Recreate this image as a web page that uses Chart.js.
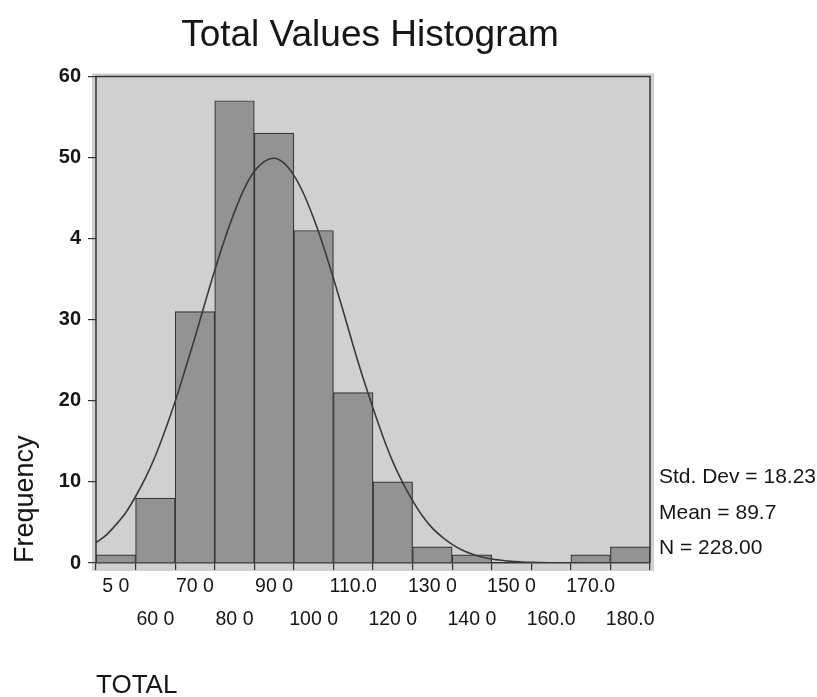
<!DOCTYPE html>
<html>
<head>
<meta charset="utf-8">
<title>Total Values Histogram</title>
<script src="https://cdn.jsdelivr.net/npm/chart.js@4.4.1/dist/chart.umd.min.js"></script>
<style>
  html, body { margin: 0; padding: 0; background: #ffffff; }
  #wrap { width: 817px; height: 697px; }
</style>
</head>
<body>
<div id="wrap"><canvas id="chart" width="817" height="697"></canvas></div>
<script>
// Histogram bins of TOTAL (bin centres, width 10)
const binCenters = [50, 60, 70, 80, 90, 100, 110, 120, 130, 140, 150, 160, 170, 180];
const frequencies = [1, 8, 31, 57, 53, 41, 21, 10, 2, 1, 0, 0, 1, 2];
const xTickLabels = ['5 0', '60 0', '70 0', '80 0', '90 0', '100 0', '110.0', '120 0',
                     '130 0', '140 0', '150 0', '160.0', '170.0', '180.0'];

const yTickValues = [0, 10, 20, 30, 40, 50, 60];
const yTickLabels = ['0', '10', '20', '30', '4', '50', '60'];

// Fitted normal curve (Mean = 89.7, Std. Dev = 18.23, N = 228)
const curveX = [45, 47.5, 50, 52.5, 55, 57.5, 60, 62.5, 65, 67.5, 70, 72.5, 75, 77.5,
                80, 82.5, 85, 87.5, 90, 92.5, 95, 97.5, 100, 102.5, 105, 107.5, 110,
                112.5, 115, 117.5, 120, 122.5, 125, 127.5, 130, 132.5, 135, 137.5, 140,
                142.5, 145, 147.5, 150, 152.5, 155, 160, 165, 170, 175, 180, 185];
const curveY = [2.5, 3.4, 4.7, 6.2, 8.2, 10.5, 13.2, 16.4, 19.9, 23.8, 27.8, 32.0, 36.1, 39.9,
                43.3, 46.2, 48.3, 49.5, 49.9, 49.3, 47.8, 45.5, 42.5, 39.0, 35.1, 31.0, 26.8,
                22.8, 19.1, 15.6, 12.5, 9.9, 7.7, 5.8, 4.3, 3.2, 2.3, 1.6, 1.1,
                0.75, 0.5, 0.33, 0.2, 0.13, 0.08, 0.03, 0.01, 0, 0, 0, 0];

const statLines = ['Std. Dev = 18.23', 'Mean = 89.7', 'N = 228.00'];

const FONT = '"Liberation Sans", Arial, Helvetica, sans-serif';
const INK = '#161616';
const FRAME = '#333333';

// Grey plotting panel behind the bars
const panelPlugin = {
  id: 'panel',
  beforeDraw(chart) {
    const { ctx, chartArea: a } = chart;
    ctx.save();
    ctx.fillStyle = '#d0d0d0';
    ctx.fillRect(a.left - 4, a.top - 3, a.right - a.left + 8, a.bottom - a.top + 11);
    ctx.restore();
  },
  afterDatasetsDraw(chart) {
    const { ctx, chartArea: a } = chart;
    ctx.save();
    ctx.strokeStyle = FRAME;
    ctx.lineWidth = 1.5;
    ctx.beginPath();
    ctx.moveTo(a.left, a.bottom);
    ctx.lineTo(a.left, a.top);
    ctx.lineTo(a.right, a.top);
    ctx.lineTo(a.right, a.bottom);
    ctx.stroke();
    ctx.restore();
  }
};

// Summary statistics printed beside the panel
const statsPlugin = {
  id: 'statsText',
  afterDraw(chart) {
    const { ctx, chartArea: a } = chart;
    ctx.save();
    ctx.font = '21px ' + FONT;
    ctx.fillStyle = INK;
    ctx.textAlign = 'left';
    ctx.textBaseline = 'alphabetic';
    statLines.forEach((t, i) => ctx.fillText(t, a.right + 9, a.bottom - 80 + i * 35.5));
    ctx.restore();
  }
};

new Chart(document.getElementById('chart'), {
  type: 'bar',
  data: {
    datasets: [
      {
        type: 'line',
        data: curveX.map((x, i) => ({ x: x, y: curveY[i] })),
        borderColor: '#3a3a3a',
        borderWidth: 1.6,
        pointRadius: 0,
        fill: false,
        cubicInterpolationMode: 'monotone',
        order: 0
      },
      {
        type: 'bar',
        data: binCenters.map((x, i) => ({ x: x, y: frequencies[i] })),
        backgroundColor: '#939393',
        borderColor: '#363636',
        borderWidth: 1.2,
        barPercentage: 1,
        categoryPercentage: 1,
        order: 1
      }
    ]
  },
  options: {
    responsive: false,
    animation: false,
    devicePixelRatio: 1,
    layout: { padding: { left: 0, right: 77, top: 0, bottom: 0 } },
    plugins: {
      legend: { display: false },
      tooltip: { enabled: false },
      title: {
        display: true,
        text: 'Total Values Histogram',
        color: INK,
        font: { family: FONT, size: 37, weight: 'normal' },
        padding: { top: 14, bottom: 18 }
      }
    },
    scales: {
      x: {
        type: 'linear',
        min: 45,
        max: 185,
        offset: false,
        afterFit(scale) { scale.height = 134; },
        afterBuildTicks(scale) { scale.ticks = binCenters.map(v => ({ value: v })); },
        grid: { drawOnChartArea: false, drawTicks: true, tickLength: 7, tickColor: FRAME, lineWidth: 1.2 },
        border: { display: true, color: FRAME, width: 1.6 },
        ticks: {
          autoSkip: false,
          maxRotation: 0,
          minRotation: 0,
          padding: 0,
          color: INK,
          font: { family: FONT, size: 19.5, lineHeight: '33px' },
          callback(value) {
            const i = binCenters.indexOf(value);
            if (i < 0) return '';
            return i % 2 === 0 ? [xTickLabels[i], ''] : ['', xTickLabels[i]];
          }
        },
        title: {
          display: true,
          text: 'TOTAL',
          align: 'start',
          color: INK,
          font: { family: FONT, size: 26, lineHeight: 0.8 },
          padding: { top: 0, bottom: 1 }
        }
      },
      y: {
        type: 'linear',
        position: 'left',
        min: 0,
        max: 60,
        afterFit(scale) { scale.width = 96; },
        afterBuildTicks(scale) { scale.ticks = yTickValues.map(v => ({ value: v })); },
        grid: { drawOnChartArea: false, drawTicks: true, tickLength: 8, tickColor: FRAME, lineWidth: 1.2 },
        border: { display: false },
        ticks: {
          padding: 7,
          color: INK,
          font: { family: FONT, size: 20, weight: 'bold' },
          callback(value) {
            const i = yTickValues.indexOf(value);
            return i < 0 ? '' : yTickLabels[i];
          }
        },
        title: {
          display: true,
          text: 'Frequency',
          align: 'start',
          color: INK,
          font: { family: FONT, size: 27, weight: 'normal' },
          padding: { top: 9.5, bottom: 0 }
        }
      },
      yr: {
        type: 'linear',
        position: 'right',
        display: true,
        afterFit(scale) { scale.width = 90; },
        grid: { display: false, drawTicks: false },
        border: { display: false },
        ticks: { display: false }
      }
    }
  },
  plugins: [panelPlugin, statsPlugin]
});
</script>
</body>
</html>
